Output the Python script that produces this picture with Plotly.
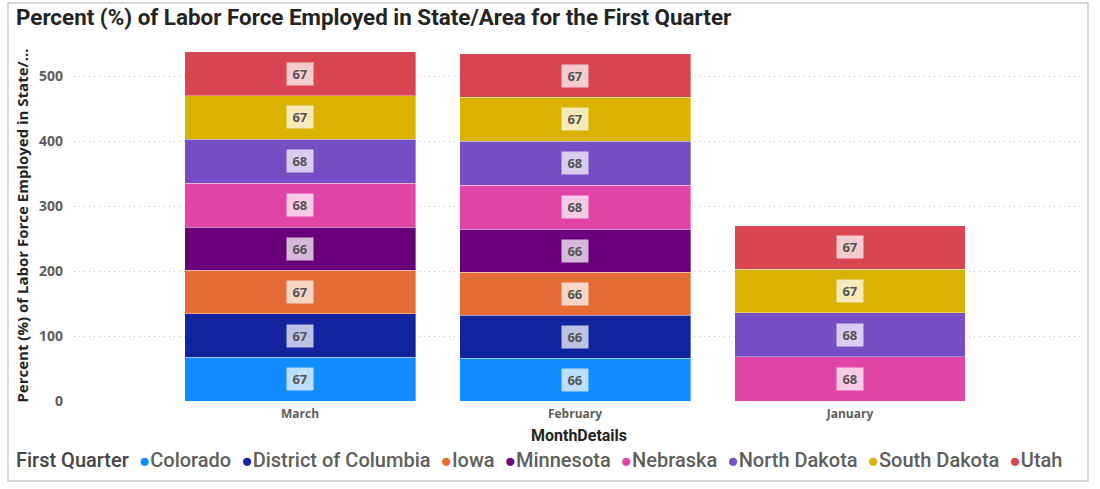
import plotly.graph_objects as go

months = ["March", "February", "January"]
states = ["Colorado", "District of Columbia", "Iowa", "Minnesota",
          "Nebraska", "North Dakota", "South Dakota", "Utah"]
colors = ["#118DFF", "#12239E", "#E66C37", "#6B007B",
          "#E044A7", "#744EC2", "#D9B300", "#D64550"]
# values per state for [March, February, January]; None = no data
values = {
    "Colorado":             [67, 66, None],
    "District of Columbia": [67, 66, None],
    "Iowa":                 [67, 66, None],
    "Minnesota":            [66, 66, None],
    "Nebraska":             [68, 68, 68],
    "North Dakota":         [68, 68, 68],
    "South Dakota":         [67, 67, 67],
    "Utah":                 [67, 67, 67],
}
y_ticks = [0, 100, 200, 300, 400, 500]

W, H = 1100, 489
L, R, T, B = 74, 16, 50, 88
pw, ph = W - L - R, H - T - B

def px(xp):
    return (xp - L) / pw

def py(yp):
    return (H - B - yp) / ph

TITLE_FONT = "Roboto"

fig = go.Figure()
annotations = []
base = [0, 0, 0]
for s, c in zip(states, colors):
    vals = values[s]
    yv = [v if v is not None else 0 for v in vals]
    fig.add_trace(go.Bar(
        name=s, x=months, y=yv,
        marker=dict(color=c, line=dict(color="rgba(255,255,255,0.35)", width=1)),
        showlegend=False, hoverinfo="x+y+name"))
    for i, v in enumerate(vals):
        if v is not None:
            annotations.append(dict(
                x=months[i], y=base[i] + v / 2, xref="x", yref="y",
                text=f"&nbsp;<b>{v}</b>&nbsp;", showarrow=False,
                font=dict(family="Open Sans", size=13, color="#555555"),
                bgcolor="rgba(255,255,255,0.72)", borderpad=2))
            base[i] += v

annotations.append(dict(
    x=px(14), y=py(17), xref="paper", yref="paper", xanchor="left", yanchor="middle",
    text="Percent (%) of Labor Force Employed in State/Area for the First Quarter",
    showarrow=False,
    font=dict(family=TITLE_FONT, size=22.4, color="#252423", weight="bold")))

legend_parts = ["<span style='color:#444444'>First Quarter</span>"]
for s, c in zip(states, colors):
    legend_parts.append(f"<span style='color:{c};font-size:19px'>●</span>{s}")
annotations.append(dict(
    x=px(14), y=py(460), xref="paper", yref="paper", xanchor="left", yanchor="middle",
    text="&nbsp;&nbsp;".join(legend_parts), showarrow=False,
    font=dict(family=TITLE_FONT, size=20, color="#605E5C", weight=500)))

shapes = [dict(type="rect", xref="paper", yref="paper",
               x0=px(8), x1=px(1088), y0=py(481), y1=py(3),
               line=dict(color="#cccccc", width=1.5), fillcolor="rgba(0,0,0,0)", layer="below")]

fig.update_layout(
    width=W, height=H,
    margin=dict(l=L, r=R, t=T, b=B),
    barmode="stack", bargap=0.16,
    plot_bgcolor="white", paper_bgcolor="white",
    annotations=annotations, shapes=shapes,
    showlegend=False,
    xaxis=dict(range=[-0.822, 2.851], showgrid=False, showline=False, zeroline=False,
               ticks="", ticklabelstandoff=4,
               tickfont=dict(family="Open Sans", size=12, color="#605E5C", weight="bold"),
               title=dict(text="MonthDetails", standoff=8,
                          font=dict(family=TITLE_FONT, size=16, color="#252423", weight="bold"))),
    yaxis=dict(range=[0, 540], tickvals=y_ticks, showgrid=True, gridcolor="#c4c4c4", griddash="1px,4px",
               gridwidth=1, zeroline=False, showline=False, ticks="", ticklabelstandoff=10,
               tickfont=dict(family="Open Sans", size=14, color="#605E5C", weight="bold"),
               title=dict(text="Percent (%) of Labor Force Employed in State/...", standoff=6,
                          font=dict(family="Open Sans", size=15, color="#252423", weight="bold"))),
)

fig.write_html("out.html")
